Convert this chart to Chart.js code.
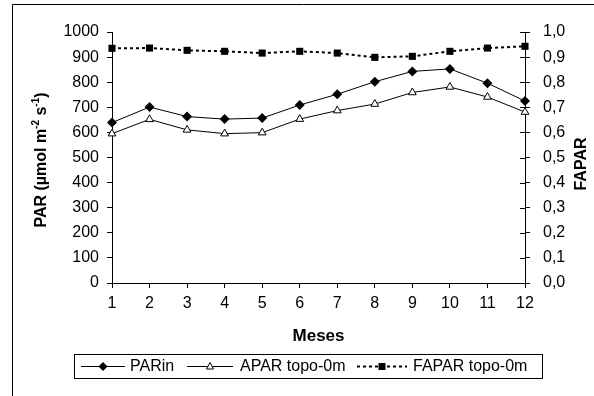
<!DOCTYPE html>
<html>
<head>
<meta charset="utf-8">
<script src="https://cdn.jsdelivr.net/npm/chart.js@4.4.0/dist/chart.umd.min.js"></script>
<style>
    body { margin: 0; background: #fff; }
    #wrap { width: 594px; height: 396px; }
</style>
</head>
<body>
<div id="wrap"><canvas id="parChart" width="594" height="396"></canvas></div>
<script>
const months = ['1', '2', '3', '4', '5', '6', '7', '8', '9', '10', '11', '12'];
const parIn = [639, 701, 663, 653, 657, 709, 752, 802, 843, 853, 796, 725];
const aparTopo = [595, 652, 610, 595, 599, 653, 687, 713, 759, 781, 741, 681];
const faparTopo = [0.935, 0.936, 0.927, 0.923, 0.916, 0.923, 0.916, 0.899, 0.903, 0.923, 0.936, 0.943];

const parTicks = { min: 0, max: 1000, step: 100 };
const faparTicks = { min: 0, max: 1, step: 0.1 };

const FONT = 'Liberation Sans, Arial, sans-serif';
const tickFont = { family: FONT, size: 16 };

function drawMarker(ctx, style, x, y) {
    ctx.save();
    ctx.lineWidth = 1;
    ctx.strokeStyle = '#000';
    ctx.setLineDash([]);
    ctx.beginPath();
    if (style === 'rectRot') {
        ctx.moveTo(x, y - 4.5); ctx.lineTo(x + 4.5, y); ctx.lineTo(x, y + 4.5); ctx.lineTo(x - 4.5, y);
        ctx.closePath();
        ctx.fillStyle = '#000';
        ctx.fill();
    } else if (style === 'triangle') {
        ctx.moveTo(x, y - 4); ctx.lineTo(x + 3.5, y + 2.5); ctx.lineTo(x - 3.5, y + 2.5);
        ctx.closePath();
        ctx.fillStyle = '#fff';
        ctx.fill();
        ctx.stroke();
    } else {
        ctx.fillStyle = '#000';
        ctx.fillRect(x - 3.5, y - 3.5, 7, 7);
    }
    ctx.restore();
}

// frame, axis titles with superscripts, inner ticks on right axis, boxed legend
const extrasPlugin = {
    id: 'extras',
    afterDraw(chart) {
        const ctx = chart.ctx;
        ctx.save();
        ctx.strokeStyle = '#000';
        ctx.lineWidth = 1;
        ctx.beginPath();
        ctx.moveTo(12.5, 400); ctx.lineTo(12.5, 4.5); ctx.lineTo(600, 4.5);
        ctx.stroke();

        const y2 = chart.scales.y2;
        ctx.beginPath();
        y2.ticks.forEach(t => {
            const py = Math.round(y2.getPixelForValue(t.value)) + 0.5;
            ctx.moveTo(y2.left - 5, py);
            ctx.lineTo(y2.left, py);
        });
        ctx.stroke();

        // left title
        ctx.fillStyle = '#000';
        ctx.save();
        ctx.translate(42, 160);
        ctx.rotate(-Math.PI / 2);
        const bold = 'bold 16px ' + FONT;
        const sup = 'bold 10px ' + FONT;
        const parts = [['PAR (µmol m', bold, 0], ['-2', sup, -6], [' s', bold, 0], ['-1', sup, -6], [')', bold, 0]];
        let w = 0;
        parts.forEach(p => { ctx.font = p[1]; w += ctx.measureText(p[0]).width; });
        let x = -w / 2;
        ctx.textBaseline = 'middle';
        parts.forEach(p => {
            ctx.font = p[1];
            ctx.fillText(p[0], x, p[2]);
            x += ctx.measureText(p[0]).width;
        });
        ctx.restore();

        // right title
        ctx.save();
        ctx.translate(582, 164);
        ctx.rotate(-Math.PI / 2);
        ctx.font = 'bold 16px ' + FONT;
        ctx.textAlign = 'center';
        ctx.textBaseline = 'middle';
        ctx.fillText('FAPAR', 0, 0);
        ctx.restore();

        // legend
        ctx.strokeRect(74.5, 354.5, 468, 24);
        const ly = 366.5;
        const items = [[81, 125, 130], [187, 233, 240], [357, 407, 413]];
        chart.data.datasets.forEach((ds, i) => {
            const [x0, x1, tx] = items[i];
            ctx.beginPath();
            ctx.lineWidth = ds.borderWidth;
            ctx.setLineDash(ds.borderDash || []);
            ctx.moveTo(x0, ly); ctx.lineTo(x1, ly);
            ctx.stroke();
            ctx.setLineDash([]);
            drawMarker(ctx, ds.pointStyle, (x0 + x1) / 2, ly);
            ctx.font = '16px ' + FONT;
            ctx.textBaseline = 'middle';
            ctx.fillStyle = '#000';
            ctx.fillText(ds.label, tx, ly);
        });
        ctx.restore();
    }
};

new Chart(document.getElementById('parChart'), {
    type: 'line',
    data: {
        labels: months,
        datasets: [{
            label: 'PARin',
            data: parIn,
            yAxisID: 'y',
            borderColor: '#000',
            borderWidth: 1,
            pointStyle: 'rectRot',
            pointRadius: 5,
            pointBackgroundColor: '#000',
            pointBorderColor: '#000',
            pointBorderWidth: 0
        }, {
            label: 'APAR topo-0m',
            data: aparTopo,
            yAxisID: 'y',
            borderColor: '#000',
            borderWidth: 1,
            pointStyle: 'triangle',
            pointRadius: 4.5,
            pointBackgroundColor: '#fff',
            pointBorderColor: '#000',
            pointBorderWidth: 1
        }, {
            label: 'FAPAR topo-0m',
            data: faparTopo,
            yAxisID: 'y2',
            borderColor: '#000',
            borderWidth: 2,
            borderDash: [3, 3],
            pointStyle: 'rect',
            pointRadius: 5,
            pointBackgroundColor: '#000',
            pointBorderColor: '#000',
            pointBorderWidth: 0
        }]
    },
    options: {
        responsive: false,
        animation: false,
        layout: { padding: { left: 0, right: 0, top: 32, bottom: 49 } },
        plugins: { legend: { display: false }, tooltip: { enabled: false } },
        scales: {
            x: {
                offset: false,
                grid: { drawOnChartArea: false, drawTicks: true, tickLength: 5, color: '#000', offset: false },
                border: { display: true, color: '#000', width: 1 },
                ticks: { color: '#000', font: tickFont, padding: 6, maxRotation: 0, autoSkip: false },
                title: { display: true, text: 'Meses', color: '#000', font: { family: FONT, size: 17, weight: 'bold' }, padding: 0 },
                afterFit: s => { s.height = 64; }
            },
            y: {
                position: 'left',
                min: parTicks.min,
                max: parTicks.max,
                grid: { drawOnChartArea: false, drawTicks: true, tickLength: 5, color: '#000' },
                border: { display: true, color: '#000', width: 1 },
                ticks: { stepSize: parTicks.step, color: '#000', font: tickFont, padding: 8, callback: v => String(v) },
                afterFit: s => { s.width = 112; }
            },
            y2: {
                position: 'right',
                min: faparTicks.min,
                max: faparTicks.max,
                grid: { drawOnChartArea: false, drawTicks: true, tickLength: 5, color: '#000' },
                border: { display: true, color: '#000', width: 1 },
                ticks: {
                    stepSize: faparTicks.step,
                    color: '#000',
                    font: tickFont,
                    padding: 13,
                    callback: v => v.toFixed(1).replace('.', ',')
                },
                afterFit: s => { s.width = 69; }
            }
        }
    },
    plugins: [extrasPlugin]
});
</script>
</body>
</html>
